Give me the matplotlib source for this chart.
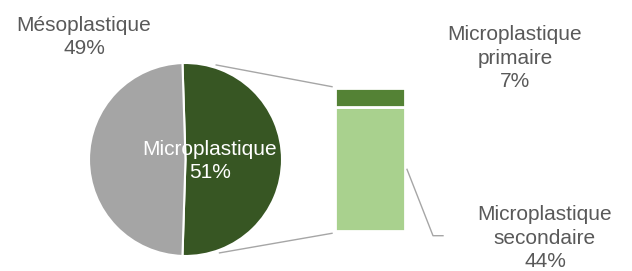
import numpy as np
import matplotlib.pyplot as plt

# data
pie_labels = ['Microplastique', 'Mésoplastique']
pie_values = [51, 49]
bar_labels = ['Microplastique\nsecondaire', 'Microplastique\nprimaire']
bar_values = [44, 7]

pie_colors = ['#375623', '#A5A5A5']
bar_colors = ['#A9D18E', '#548235']
text_gray = '#595959'
line_gray = '#A6A6A6'

plt.rcParams['font.family'] = ['Liberation Sans', 'DejaVu Sans']

W, H = 632, 271
fig = plt.figure(figsize=(W / 100, H / 100), dpi=100)
ax = fig.add_axes([0, 0, 1, 1])

# pie (split slice centred on the right)
cx, cy, r = 185.5, 111.5, 96.5
start = -pie_values[0] / sum(pie_values) * 180
ax.pie(pie_values, colors=pie_colors, startangle=start, center=(cx, cy),
       radius=r, counterclock=True,
       wedgeprops=dict(edgecolor='white', linewidth=1.5))

# stacked bar
bx, bw, bbottom, bheight = 370, 70, 39.7, 143.6
scale = bheight / sum(bar_values)
bottoms = np.concatenate([[0], np.cumsum(bar_values)[:-1]])
for v, b, c in zip(bar_values, bottoms, bar_colors):
    ax.bar(bx, v * scale, width=bw, bottom=bbottom + b * scale, color=c,
           edgecolor='white', linewidth=2)

# connector lines from pie to bar
top_bar = bbottom + sum(bar_values) * scale
left_bar = bx - bw / 2 - 3
for ang, ybar in [(72, top_bar + 1), (-70, bbottom - 2)]:
    a = np.deg2rad(ang)
    ax.plot([cx + 1.03 * r * np.cos(a), left_bar],
            [cy + 1.03 * r * np.sin(a), ybar], color=line_gray, lw=1)

# leader line for secondary label
ymid = bbottom + bar_values[0] * scale / 2
ax.plot([bx + bw / 2 + 2, 433, 443], [ymid, 35.3, 35.3], color=line_gray, lw=1)

# labels
fs = 15
ls = 1.33
ax.text(84, 234, '%s\n%d%%' % (pie_labels[1], pie_values[1]), ha='center',
        va='center', fontsize=fs, color=text_gray, linespacing=ls)
ax.text(210, 110, '%s\n%d%%' % (pie_labels[0], pie_values[0]), ha='center',
        va='center', fontsize=fs, color='white', linespacing=ls)
ax.text(515, 213, '%s\n%d%%' % (bar_labels[1], bar_values[1]), ha='center',
        va='center', fontsize=fs, color=text_gray, linespacing=ls)
ax.text(545, 33, '%s\n%d%%' % (bar_labels[0], bar_values[0]), ha='center',
        va='center', fontsize=fs, color=text_gray, linespacing=ls)

ax.set_xlim(0, W)
ax.set_ylim(0, H)
ax.set_aspect('equal')
ax.axis('off')
fig.savefig('out.png', dpi=100)
